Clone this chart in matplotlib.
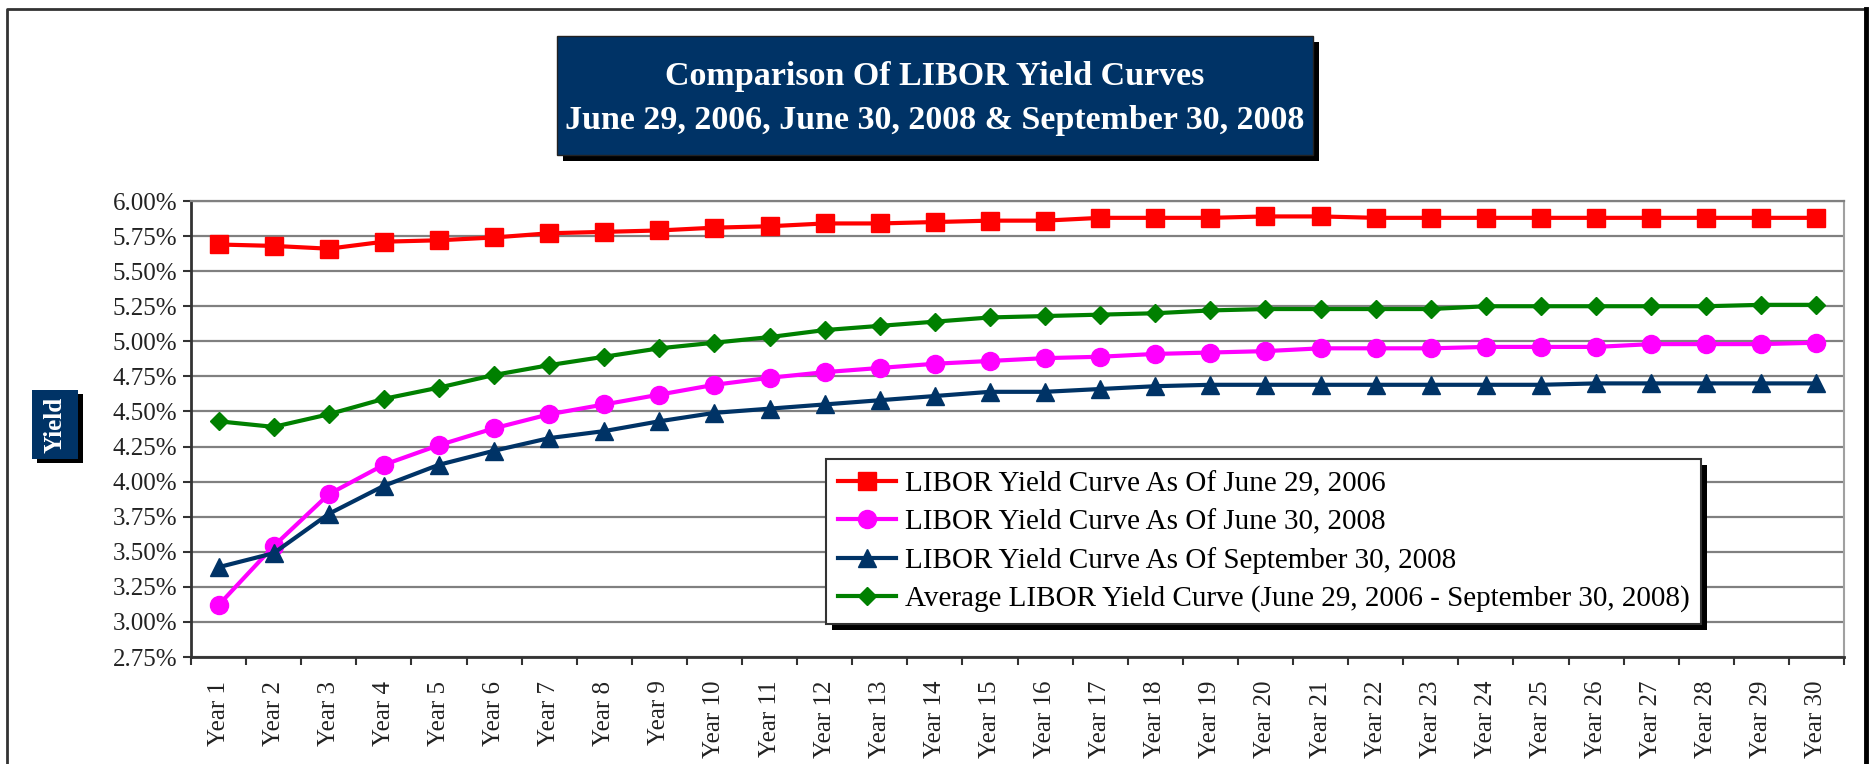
import matplotlib
matplotlib.use("Agg")
import matplotlib.pyplot as plt
from matplotlib.patches import Rectangle
from matplotlib.lines import Line2D
import matplotlib.ticker as tck
import numpy as np

plt.rcParams['font.family'] = ['Liberation Serif', 'DejaVu Serif']

# data (percent)
years = ["Year %d" % i for i in range(1, 31)]
libor_2006 = [5.69, 5.68, 5.66, 5.71, 5.72, 5.74, 5.77, 5.78, 5.79, 5.81,
              5.82, 5.84, 5.84, 5.85, 5.86, 5.86, 5.88, 5.88, 5.88, 5.89,
              5.89, 5.88, 5.88, 5.88, 5.88, 5.88, 5.88, 5.88, 5.88, 5.88]
libor_jun08 = [3.12, 3.54, 3.91, 4.12, 4.26, 4.38, 4.48, 4.55, 4.62, 4.69,
               4.74, 4.78, 4.81, 4.84, 4.86, 4.88, 4.89, 4.91, 4.92, 4.93,
               4.95, 4.95, 4.95, 4.96, 4.96, 4.96, 4.98, 4.98, 4.98, 4.99]
libor_sep08 = [3.39, 3.49, 3.77, 3.97, 4.12, 4.22, 4.31, 4.36, 4.43, 4.49,
               4.52, 4.55, 4.58, 4.61, 4.64, 4.64, 4.66, 4.68, 4.69, 4.69,
               4.69, 4.69, 4.69, 4.69, 4.69, 4.70, 4.70, 4.70, 4.70, 4.70]
libor_avg = [4.43, 4.39, 4.48, 4.59, 4.67, 4.76, 4.83, 4.89, 4.95, 4.99,
             5.03, 5.08, 5.11, 5.14, 5.17, 5.18, 5.19, 5.20, 5.22, 5.23,
             5.23, 5.23, 5.23, 5.25, 5.25, 5.25, 5.25, 5.25, 5.26, 5.26]
labels = ["LIBOR Yield Curve As Of June 29, 2006",
          "LIBOR Yield Curve As Of June 30, 2008",
          "LIBOR Yield Curve As Of September 30, 2008",
          "Average LIBOR Yield Curve (June 29, 2006 - September 30, 2008)"]
y_ticks = np.arange(2.75, 6.01, 0.25)

W, H = 1869, 764
navy = '#003366'

fig = plt.figure(figsize=(W/100, H/100), dpi=100)
ax = fig.add_axes([191/W, 1-657/H, (1844-191)/W, (657-201)/H])

x = np.arange(len(years))
ax.plot(x, libor_2006, color='#ff0000', lw=3, marker='s', ms=12.5, label=labels[0], zorder=3)
ax.plot(x, libor_jun08, color='#ff00ff', lw=3, marker='o', ms=13, label=labels[1], zorder=3)
ax.plot(x, libor_sep08, color=navy, lw=3, marker='^', ms=13.5, label=labels[2], zorder=3)
ax.plot(x, libor_avg, color='#008000', lw=3, marker='D', ms=9.5, label=labels[3], zorder=3)

ax.set_xlim(-0.5, len(years) - 0.5)
ax.set_ylim(2.75, 6.0)
ax.set_yticks(y_ticks)
ax.yaxis.set_major_formatter(tck.FuncFormatter(lambda v, p: "%.2f%%" % v))
ax.set_xticks(x)
ax.set_xticklabels(years, rotation=90, fontsize=18)
ax.xaxis.set_minor_locator(tck.FixedLocator(np.arange(-0.5, 30, 1)))
ax.tick_params(axis='x', which='major', length=0, pad=17, colors='#222222')
ax.tick_params(axis='x', which='minor', length=6, width=1.5, direction='out', color='#333333')
ax.tick_params(axis='y', length=6, width=1.5, direction='out', color='#333333',
               labelsize=18, labelcolor='#222222', pad=4)

ax.grid(True, axis='y', color='#808080', lw=1.6, zorder=0)
ax.set_axisbelow(True)
for s in ['left', 'bottom']:
    ax.spines[s].set_color('#333333')
    ax.spines[s].set_linewidth(2)
ax.spines['right'].set_color('#a0a0a0')
ax.spines['right'].set_linewidth(1.5)
ax.spines['top'].set_color('#808080')
ax.spines['top'].set_linewidth(1.6)

leg = ax.legend(loc='upper left', bbox_to_anchor=(826/W, 1-459/H), bbox_transform=fig.transFigure,
                fontsize=21, frameon=True, fancybox=False, framealpha=1, edgecolor='#333333',
                handlelength=2.0, handletextpad=0.3, labelspacing=0.4, borderpad=0.4,
                borderaxespad=0)
leg.get_frame().set_linewidth(1.5)
leg.set_zorder(6)

# legend drop shadow
fig.canvas.draw()
bb = leg.get_frame().get_window_extent()
inv = ax.transAxes.inverted()
(x0, y0), (x1, y1) = inv.transform([(bb.x0 + 6, bb.y0 - 6), (bb.x1 + 6, bb.y1 - 6)])
ax.add_patch(Rectangle((x0, y0), x1 - x0, y1 - y0, transform=ax.transAxes,
                       facecolor='black', edgecolor='none', clip_on=False, zorder=5.5))

# title box with shadow
tx0, tx1, ty0, ty1 = 557, 1313, 36, 155
fig.add_artist(Rectangle(((tx0+6)/W, 1-(ty1+6)/H), (tx1-tx0)/W, (ty1-ty0)/H,
                         transform=fig.transFigure, facecolor='black', edgecolor='none'))
fig.add_artist(Rectangle((tx0/W, 1-ty1/H), (tx1-tx0)/W, (ty1-ty0)/H,
                         transform=fig.transFigure, facecolor=navy, edgecolor='#222222', lw=1))
fig.text((tx0+tx1)/2/W, 1-76/H, "Comparison Of LIBOR Yield Curves", color='white',
         fontsize=24.5, fontweight='bold', ha='center', va='center')
fig.text((tx0+tx1)/2/W, 1-121/H, "June 29, 2006, June 30, 2008 & September 30, 2008",
         color='white', fontsize=24.5, fontweight='bold', ha='center', va='center')

# y label box with shadow
yx0, yx1, yy0, yy1 = 32, 78, 390, 459
fig.add_artist(Rectangle(((yx0+5)/W, 1-(yy1+4)/H), (yx1-yx0)/W, (yy1-yy0)/H,
                         transform=fig.transFigure, facecolor='black', edgecolor='none'))
fig.add_artist(Rectangle((yx0/W, 1-yy1/H), (yx1-yx0)/W, (yy1-yy0)/H,
                         transform=fig.transFigure, facecolor=navy, edgecolor='none'))
fig.text((yx0+yx1)/2/W, 1-(yy0+yy1)/2/H, "Yield", color='white', fontsize=18,
         fontweight='bold', rotation=90, ha='center', va='center')

# outer frame
fig.add_artist(Line2D([7/W, 7/W, 1866/W, 1866/W], [0, 1-9/H, 1-9/H, 0],
                      transform=fig.transFigure, color='#333333', lw=2))
fig.add_artist(Line2D([1866/W, 1866/W], [0, 1-9/H], transform=fig.transFigure,
                      color='black', lw=3.5))

fig.savefig("out.png", dpi=100)
